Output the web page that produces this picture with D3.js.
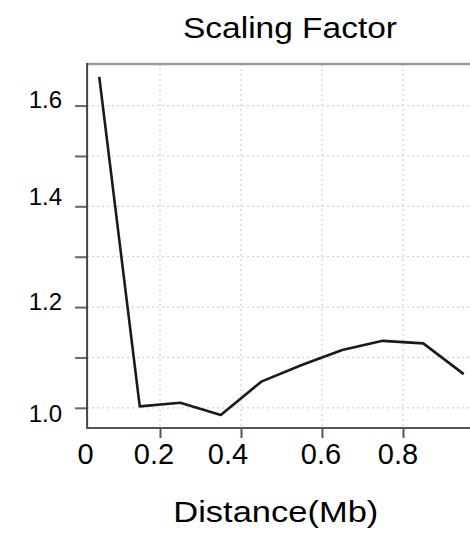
<!DOCTYPE html>
<html>
<head>
<meta charset="utf-8">
<script src="https://cdn.jsdelivr.net/npm/d3@7"></script>
<style>
  html, body { margin: 0; padding: 0; background: #fff; overflow: hidden; }
  svg { display: block; font-family: "Liberation Sans", Arial, sans-serif; }
</style>
</head>
<body>
<svg id="chart" width="470" height="537"></svg>
<script>
// Scaling factor by genomic distance (bin midpoints, Mb)
const distance = [0.05, 0.15, 0.25, 0.35, 0.45, 0.55, 0.65, 0.75, 0.85, 0.95];
const scaling  = [1.657, 1.003, 1.010, 0.986, 1.052, 1.085, 1.115, 1.133, 1.128, 1.067];

const xTicks = [0.2, 0.4, 0.6, 0.8];
const xTickLabels = ["0.2", "0.4", "0.6", "0.8"];
const yMajor = [1.0, 1.2, 1.4, 1.6];
const yMajorLabels = ["1.0", "1.2", "1.4", "1.6"];
const yMinor = [1.1, 1.3, 1.5];

const svg = d3.select("#chart");

const x = d3.scaleLinear().domain([0, 1]).range([79, 484]);
const y = d3.scaleLinear().domain([0.96, 1.6825]).range([428, 64]);

const xMin = 0.02, xMax = 1.02;
const plotLeft = x(xMin), plotRight = x(xMax);
const plotTop = y.range()[1], plotBottom = y.range()[0];

// grid
const grid = svg.append("g").attr("stroke", "#d2d2d2").attr("stroke-width", 1.2)
  .attr("stroke-dasharray", "2,3");
grid.selectAll("line.h").data(yMajor.concat(yMinor)).join("line")
  .attr("class", "h")
  .attr("x1", plotLeft).attr("x2", plotRight)
  .attr("y1", d => y(d)).attr("y2", d => y(d));
grid.selectAll("line.v").data(xTicks).join("line")
  .attr("class", "v")
  .attr("y1", plotTop).attr("y2", plotBottom)
  .attr("x1", d => x(d)).attr("x2", d => x(d));

// data line
svg.append("path")
  .datum(distance.map((d, i) => [d, scaling[i]]))
  .attr("fill", "none")
  .attr("stroke", "#1a1a1a")
  .attr("stroke-width", 2.6)
  .attr("stroke-linejoin", "round")
  .attr("d", d3.line().x(d => x(d[0])).y(d => y(d[1])));

// frame
svg.append("line").attr("x1", plotLeft).attr("x2", plotRight).attr("y1", plotTop).attr("y2", plotTop)
  .attr("stroke", "#9a9a9a").attr("stroke-width", 2.5);

// y axis
const yAxis = svg.append("g").attr("transform", `translate(${plotLeft},0)`)
  .call(d3.axisLeft(y).tickValues(yMajor.concat(yMinor)).tickSize(12).tickFormat(""));
yAxis.select(".domain").remove();
yAxis.selectAll(".tick line").attr("stroke", "#666").attr("stroke-width", 2);
svg.append("line").attr("x1", plotLeft).attr("x2", plotLeft).attr("y1", plotTop - 1).attr("y2", plotBottom + 1)
  .attr("stroke", "#444").attr("stroke-width", 2);

// x axis
const xAxis = svg.append("g").attr("transform", `translate(0,${plotBottom})`)
  .call(d3.axisBottom(x).tickValues(xTicks).tickSize(10).tickFormat(""));
xAxis.select(".domain").remove();
xAxis.selectAll(".tick line").attr("stroke", "#555").attr("stroke-width", 2);
svg.append("line").attr("x1", plotLeft - 1).attr("x2", plotRight).attr("y1", plotBottom).attr("y2", plotBottom)
  .attr("stroke", "#555").attr("stroke-width", 2.2);

// tick labels (hand-tuned nudges)
const xLabelNudge = [-6, -13, -1, -5];
svg.append("g").selectAll("text").data(xTicks).join("text")
  .attr("x", (d, i) => x(d) + xLabelNudge[i])
  .attr("y", 464)
  .attr("text-anchor", "middle")
  .attr("font-size", 29)
  .attr("fill", "#000")
  .text((d, i) => xTickLabels[i]);
svg.append("text").attr("x", plotLeft - 1.5).attr("y", 464)
  .attr("text-anchor", "middle").attr("font-size", 29).attr("fill", "#000").text("0");

const yLabelNudge = [6, -6, -10, -6];
svg.append("g").selectAll("text").data(yMajor).join("text")
  .attr("x", 62)
  .attr("y", (d, i) => y(d) + yLabelNudge[i])
  .attr("dy", "0.36em")
  .attr("text-anchor", "end")
  .attr("font-size", 24)
  .attr("fill", "#000")
  .text((d, i) => yMajorLabels[i]);

// titles
svg.append("text").attr("x", 290).attr("y", 38).attr("text-anchor", "middle")
  .attr("font-size", 30).attr("fill", "#000")
  .attr("textLength", 214).attr("lengthAdjust", "spacingAndGlyphs")
  .text("Scaling Factor");
svg.append("text").attr("x", 275.8).attr("y", 521.5).attr("text-anchor", "middle")
  .attr("font-size", 30).attr("fill", "#000")
  .attr("textLength", 205).attr("lengthAdjust", "spacingAndGlyphs")
  .text("Distance(Mb)");
</script>
</body>
</html>
